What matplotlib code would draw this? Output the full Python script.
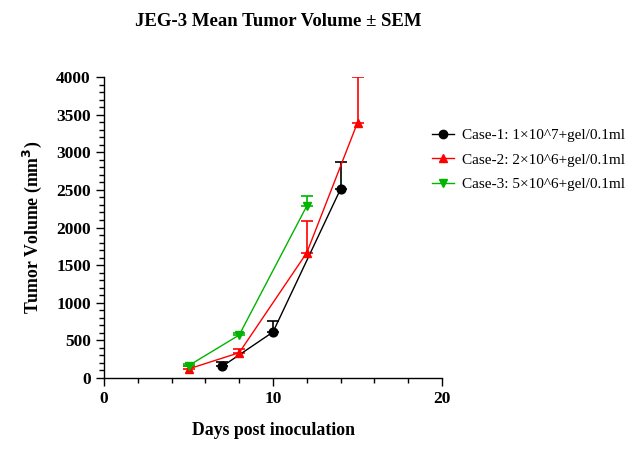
import matplotlib
matplotlib.use("Agg")
import matplotlib.pyplot as plt
from matplotlib.ticker import MultipleLocator
from matplotlib.lines import Line2D

days1 = [7, 10, 14]
vol1 = [155, 611, 2512]
sem1 = [53, 142, 354]

days2 = [5, 8, 12, 15]
vol2 = [120, 336, 1665, 3393]
sem2 = [40, 44, 417, 607]

days3 = [5, 8, 12]
vol3 = [163, 571, 2286]
sem3 = [25, 30, 129]

labels = ["Case-1: 1×10^7+gel/0.1ml",
          "Case-2: 2×10^6+gel/0.1ml",
          "Case-3: 5×10^6+gel/0.1ml"]
colors = ["black", "#FF0000", "#00B400"]
markers = ["o", "^", "v"]

plt.rcParams['font.family'] = ['Liberation Serif', 'DejaVu Serif']

fig = plt.figure(figsize=(6.38, 4.71), dpi=100)
ax = fig.add_axes([104/638, 1-378/471, (442-104)/638, (378-77)/471])

series = [(days1, vol1, sem1), (days2, vol2, sem2), (days3, vol3, sem3)]
handles = []
for (d, v, s), lab, c, m in zip(series, labels, colors, markers):
    ax.errorbar(d, v, yerr=[[0]*len(s), s], color=c, marker=m, markersize=6.3,
                linewidth=1, elinewidth=1.2, capsize=4, capthick=1.2)
    handles.append(Line2D([], [], color=c, marker=m, markersize=6, linewidth=1, label=lab))

ax.set_xlim(0, 20)
ax.set_ylim(0, 4000)
ax.xaxis.set_major_locator(MultipleLocator(10))
ax.xaxis.set_minor_locator(MultipleLocator(2))
ax.yaxis.set_major_locator(MultipleLocator(500))
ax.yaxis.set_minor_locator(MultipleLocator(100))
ax.spines['top'].set_visible(False)
ax.spines['right'].set_visible(False)
for sp in ['left', 'bottom']:
    ax.spines[sp].set_linewidth(1)
ax.tick_params(which='major', length=6, width=1, direction='out', labelsize=12.5)
ax.tick_params(which='minor', length=3.5, width=1, direction='out')
for t in ax.get_xticklabels() + ax.get_yticklabels():
    t.set_fontweight('bold')

ax.set_xlabel("Days post inoculation", fontsize=12.8, fontweight='bold', labelpad=11)
ax.set_ylabel("Tumor Volume (mm$^\\mathbf{3}$)", fontsize=12.8, fontweight='bold', labelpad=9)
fig.text(278/638, 1-22/471, "JEG-3 Mean Tumor Volume ± SEM", ha='center', va='center',
         fontsize=13.5, fontweight='bold')

leg = ax.legend(handles=handles, loc='upper left', bbox_to_anchor=(0.93, 0.875), frameon=False,
                fontsize=11, handlelength=1.43, handletextpad=0.55, labelspacing=0.72)

fig.savefig("out.png", dpi=100)
